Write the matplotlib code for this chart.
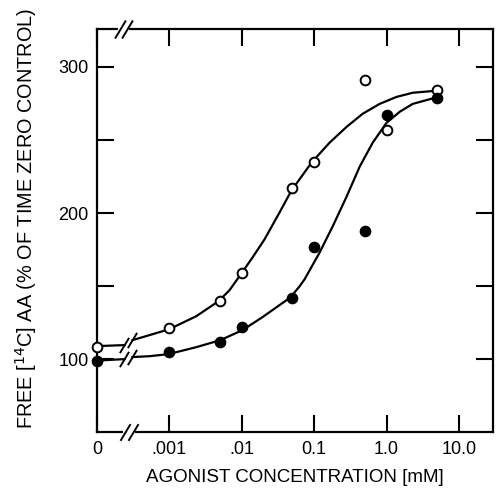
import matplotlib
matplotlib.use("Agg")
import matplotlib.pyplot as plt
import matplotlib.transforms as mtransforms

plt.rcParams['font.family'] = ['Liberation Sans', 'DejaVu Sans']

# agonist concentration (mM); the "0" control is drawn at 1e-4 on the log axis
ZERO_POS = 1e-4
conc = [ZERO_POS, 0.001, 0.005, 0.01, 0.05, 0.1, 0.5, 1.0, 5.0]
open_vals = [108.5, 121, 140, 159, 217, 235, 291, 257, 284]
filled_vals = [99, 105, 112, 122, 142, 177, 188, 267, 279]

# hand-drawn fitted curves
BREAK_LEFT = 2.4e-4
BREAK_RIGHT = 3.1e-4
zero_seg_x = [ZERO_POS, BREAK_LEFT]
open_zero_seg = [108.9, 109.6]
filled_zero_seg = [99.0, 100.0]

open_curve_x = [BREAK_RIGHT, 5.3e-4, 0.001, 0.00236, 0.00477, 0.00676, 0.00929,
                0.0141, 0.0206, 0.0332, 0.0486, 0.092, 0.163, 0.281, 0.467,
                0.803, 1.38, 2.3, 4.62]
open_curve = [113.0, 116.4, 120.5, 129.4, 139.6, 147.1, 156.7, 169.6, 181.9,
              200.3, 215.4, 234.5, 248.1, 259.0, 267.9, 274.7, 279.5, 282.3, 283.6]

filled_curve_x = [BREAK_RIGHT, 5.3e-4, 0.00097, 0.00236, 0.00507, 0.0102, 0.0193,
                  0.0472, 0.0628, 0.0737, 0.119, 0.18, 0.281, 0.425, 0.643,
                  1.0, 1.52, 2.3, 4.62]
filled_curve = [101.4, 102.0, 103.4, 108.2, 113.0, 119.8, 128.7, 142.3, 149.8,
                154.6, 173.0, 190.8, 211.3, 231.7, 248.1, 261.8, 269.3, 274.7, 278.8]

xticks = [ZERO_POS, 0.001, 0.01, 0.1, 1.0, 10.0]
xticklabels = ["0", ".001", ".01", "0.1", "1.0", "10.0"]
yticks = [100, 150, 200, 250, 300]
yticklabels = ["100", "", "200", "", "300"]

fig = plt.figure(figsize=(4.97, 4.90), dpi=100)
ax = fig.add_axes([0.195, 0.118, 0.797, 0.823])
ax.set_xscale('log')
ax.set_xlim(ZERO_POS, 10 ** 1.47)
ax.set_ylim(50, 326)

lw = 1.6
ax.plot(zero_seg_x, open_zero_seg, color='k', lw=lw, clip_on=False)
ax.plot(zero_seg_x, filled_zero_seg, color='k', lw=lw, clip_on=False)
ax.plot(open_curve_x, open_curve, color='k', lw=lw, solid_joinstyle='round')
ax.plot(filled_curve_x, filled_curve, color='k', lw=lw, solid_joinstyle='round')

ax.plot(conc, open_vals, 'o', ms=7, mfc='white', mec='k', mew=1.4, clip_on=False, zorder=5)
ax.plot(conc, filled_vals, 'o', ms=7, mfc='k', mec='k', mew=1.4, clip_on=False, zorder=5)

# break marks "//"
slash = [(-0.6, -1), (0.6, 1)]
brk_x = [BREAK_LEFT, BREAK_RIGHT]
ax.plot(brk_x, [open_zero_seg[-1], open_curve[0]], ls='none', marker=slash, ms=11,
        mew=1.4, color='k')
ax.plot(brk_x, [filled_zero_seg[-1], filled_curve[0]], ls='none', marker=slash, ms=11,
        mew=1.4, color='k')
trans = mtransforms.blended_transform_factory(ax.transData, ax.transAxes)
bot_x = [2.45e-4, 3.17e-4]
ax.plot(bot_x, [0, 0], color='white', lw=3, transform=trans, clip_on=False, zorder=6)
ax.plot(bot_x, [0, 0], ls='none', marker=slash, ms=12, mew=1.4, color='k',
        transform=trans, clip_on=False, zorder=7)
top_x = [2.1e-4, 2.63e-4]
ax.plot(top_x, [1, 1], color='white', lw=3, transform=trans, clip_on=False, zorder=6)
ax.plot(top_x, [1, 1], ls='none', marker=slash, ms=13, mew=1.4, color='k',
        transform=trans, clip_on=False, zorder=7)

ax.set_xticks(xticks, xticklabels)
ax.set_yticks(yticks, yticklabels)
ax.minorticks_off()
ax.tick_params(direction='in', length=12, width=1.5, top=True, right=True,
               labelsize=13, pad=6)
for s in ax.spines.values():
    s.set_linewidth(1.6)

ax.set_xlabel('AGONIST CONCENTRATION [mM]', fontsize=13.5, labelpad=8)
ax.set_ylabel('FREE [$^{14}$C] AA (% OF TIME ZERO CONTROL)', fontsize=14.3)
ax.yaxis.set_label_coords(-0.145, 0.53)

fig.savefig('out.png', dpi=100)
